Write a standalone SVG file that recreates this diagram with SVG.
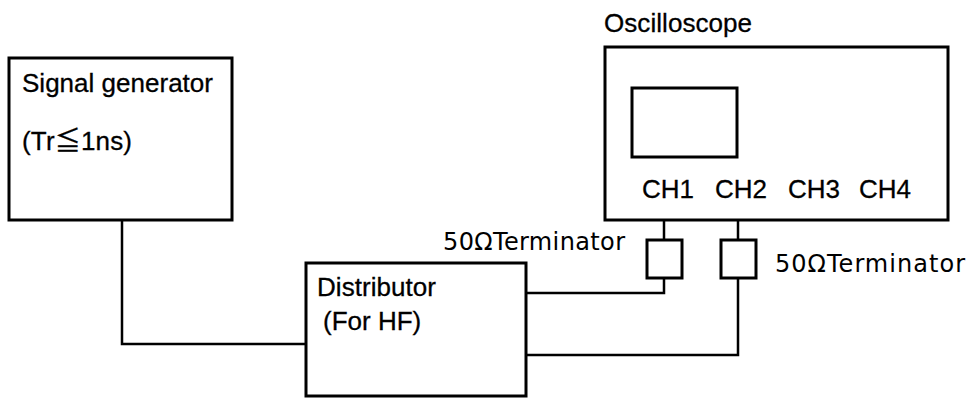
<svg xmlns="http://www.w3.org/2000/svg" width="970" height="399" viewBox="0 0 970 399">
<style>
.box{fill:none;stroke:#000;stroke-width:3}
.wire{fill:none;stroke:#000;stroke-width:2.5}
.lbl{font-family:"Liberation Sans","Noto Sans CJK JP",sans-serif;font-size:26px;fill:#000;stroke:#000;stroke-width:0.3}
.term{font-family:"DejaVu Sans",sans-serif;font-size:24px;fill:#000}
</style>
<rect width="970" height="399" fill="#fff"/>
<g id="connectors">
<polyline class="wire" points="122,220 122,344 306,344"/>
<polyline class="wire" points="664,220 664,240"/>
<polyline class="wire" points="664,278 664,293 526,293"/>
<polyline class="wire" points="738,220 738,240"/>
<polyline class="wire" points="738,278 738,355 526,355"/>
</g>
<g id="signal-generator">
<rect class="box" x="9" y="58" width="223" height="162"/>
<text class="lbl" x="22" y="92" textLength="191">Signal generator</text>
<text class="lbl" x="22" y="150" textLength="110">(Tr≦1ns)</text>
</g>
<g id="distributor">
<rect class="box" x="306" y="263" width="220" height="133"/>
<text class="lbl" x="317" y="296" textLength="119">Distributor</text>
<text class="lbl" x="323" y="330">(For HF)</text>
</g>
<g id="oscilloscope">
<text class="lbl" x="604" y="32" textLength="148">Oscilloscope</text>
<rect class="box" x="605" y="47" width="343" height="173"/>
<rect class="box" x="632" y="88" width="105" height="69"/>
<text class="lbl" x="642" y="198">CH1</text>
<text class="lbl" x="715" y="198">CH2</text>
<text class="lbl" x="788" y="198">CH3</text>
<text class="lbl" x="859" y="198">CH4</text>
</g>
<g id="terminator-1">
<rect class="box" x="647" y="240" width="35" height="38"/>
<text class="term" x="443" y="250" textLength="182">50ΩTerminator</text>
</g>
<g id="terminator-2">
<rect class="box" x="721" y="240" width="35" height="38"/>
<text class="term" x="775" y="272" textLength="190">50ΩTerminator</text>
</g>
</svg>
